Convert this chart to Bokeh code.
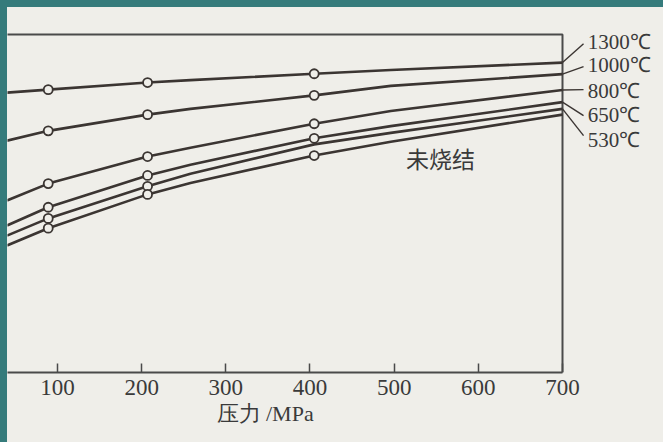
from bokeh.plotting import figure
from bokeh.models import Range1d, FixedTicker, Title
from bokeh.core.properties import value
from bokeh.embed import file_html
from bokeh.resources import INLINE

# ---- data ----
pressure = [40, 89, 207, 258, 405, 496, 700]          # MPa
dens_1300 = [82.8, 83.7, 85.8, 86.5, 88.4, 89.5, 91.7]
dens_1000 = [68.6, 71.5, 76.3, 78.0, 82.0, 84.8, 88.3]
dens_800 = [50.9, 55.9, 63.9, 66.5, 73.6, 77.4, 83.6]
dens_650 = [43.5, 48.9, 58.3, 61.5, 69.3, 72.9, 80.0]
dens_530 = [40.5, 45.6, 55.1, 58.8, 67.5, 70.9, 78.0]
dens_green = [37.6, 42.7, 52.7, 56.1, 64.2, 68.3, 76.3]   # 未烧结

marker_idx_1300 = [1, 2, 4]
marker_idx_1000 = [1, 2, 4]
marker_idx_800 = [1, 2, 4]
marker_idx_650 = [1, 2, 4]
marker_idx_530 = [1, 2]
marker_idx_green = [1, 2, 4]

temp_labels = ["1300℃", "1000℃", "800℃", "650℃", "530℃"]
temp_label_y = [97.8, 91.1, 83.3, 76.2, 68.8]
leader_end_y = [97.3, 90.5, 83.7, 76.0, 70.1]
green_label = "未烧结"

x_ticks = [100, 200, 300, 400, 500, 600, 700]
x_title = "压力 /MPa"

# ---- layout values ----
X_LEFT, X_RIGHT = 40.6, 820.0
Y_BOTTOM, Y_TOP = 0.0, 108.0
BOX_TOP = 100.0
X_END = 700
LEADER_X = 725
LABEL_X = 730
GREEN_X, GREEN_Y = 514, 63.6

PAPER = "#efeee9"
INK = "#3b3532"
TEXT = "#3a3a3a"
TEAL = "#357b7b"

p = figure(width=656, height=435, output_backend="svg", toolbar_location=None,
           x_range=Range1d(X_LEFT, X_RIGHT), y_range=Range1d(Y_BOTTOM, Y_TOP),
           y_axis_location=None, min_border_left=0, min_border_right=0,
           min_border_top=0, min_border_bottom=70)
p.background_fill_color = PAPER
p.border_fill_color = PAPER
p.outline_line_color = None
p.xgrid.visible = False
p.ygrid.visible = False
p.styles = {"background-color": PAPER}

ax = p.xaxis[0]
ax.ticker = FixedTicker(ticks=x_ticks)
ax.bounds = (X_LEFT, X_END)
ax.axis_line_width = 2
ax.axis_line_color = "#4a4a4a"
ax.major_tick_in = 9
ax.major_tick_out = 0
ax.major_tick_line_width = 1.5
ax.major_tick_line_color = "#4a4a4a"
ax.minor_tick_line_color = None
ax.major_label_text_font = "Liberation Serif"
ax.major_label_text_font_size = "23px"
ax.major_label_text_color = TEXT
ax.major_label_standoff = 7

# axis title, placed under the plotted span as in the source figure
p.add_layout(Title(text=x_title, align="left", offset=209, standoff=6,
                   vertical_align="top",
                   text_font="Liberation Serif", text_font_size="22px",
                   text_font_style="normal", text_color=TEXT), "below")

# frame box (top and right edges)
p.line([X_LEFT - 5, X_END, X_END], [BOX_TOP, BOX_TOP, Y_BOTTOM],
       line_color="#4a4a4a", line_width=2)

series = [
    (dens_1300, marker_idx_1300),
    (dens_1000, marker_idx_1000),
    (dens_800, marker_idx_800),
    (dens_650, marker_idx_650),
    (dens_530, marker_idx_530),
    (dens_green, marker_idx_green),
]
for ys, idx in series:
    p.line(pressure, ys, line_color=INK, line_width=2.6)
for ys, idx in series:
    p.scatter([pressure[i] for i in idx], [ys[i] for i in idx], marker="circle",
              size=9, fill_color=PAPER, line_color=INK, line_width=1.8)

# leader lines and temperature labels
ends = [dens_1300[-1], dens_1000[-1], dens_800[-1], dens_650[-1], dens_530[-1]]
p.segment(x0=[X_END] * 5, y0=ends, x1=[LEADER_X] * 5, y1=leader_end_y,
          line_color=INK, line_width=1.4)
p.text(x=[LABEL_X] * 5, y=temp_label_y, text=temp_labels,
       text_font=value("Liberation Serif"), text_font_size="21px",
       text_color=TEXT, text_align="left", text_baseline="middle")

p.text(x=[GREEN_X], y=[GREEN_Y], text=[green_label],
       text_font=value("Noto Sans CJK SC"), text_font_size="23px",
       text_color=TEXT, text_align="left", text_baseline="middle")

template = """
{% block preamble %}
<style>
html { background: """ + TEAL + """ !important; overflow: hidden !important; height: 100%; }
body { background: """ + TEAL + """ !important; margin: 0 !important;
       padding: 7px 0 0 7px !important; box-sizing: border-box !important; }
</style>
{% endblock %}
"""
open("out.html", "w").write(file_html(p, INLINE, title="chart", template=template))
